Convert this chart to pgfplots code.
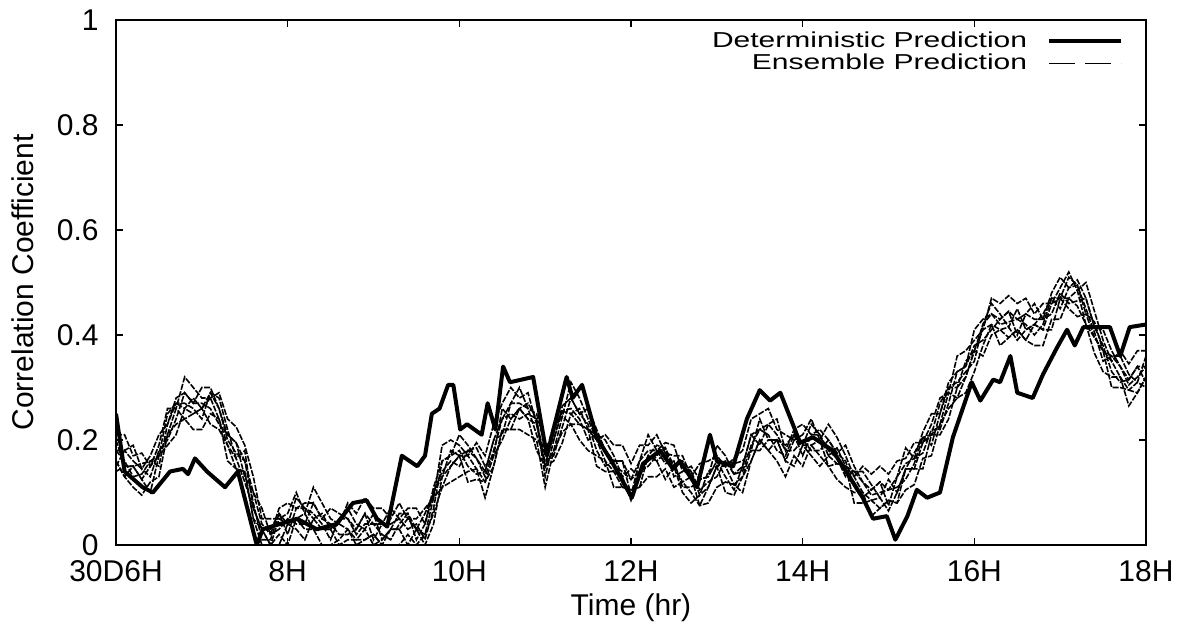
\documentclass[border=0pt]{standalone}
\usepackage{fontspec}
\setmainfont{Liberation Sans}
\usepackage{graphicx}
\usepackage{pgfplots}
\pgfplotsset{compat=1.18}
\usepackage{pgfplotstable}
\usetikzlibrary{calc}

% ensemble members
\pgfplotstableread[row sep=\\]{
t e1 e2 e3 e4 e5 e6 e7 e8\\
6.0 .21 .18 .20 .15 .18 .16 .14 .16\\
6.1 .21 .18 .15 .18 .16 .13 .15 .13\\
6.2 .17 .19 .15 .16 .13 .15 .15 .11\\
6.3 .175 .145 .155 .145 .135 .125 .125 .095\\
6.4 .15 .17 .16 .13 .16 .15 .10 .12\\
6.5 .19 .21 .17 .18 .15 .17 .17 .13\\
6.6 .26 .23 .25 .20 .23 .21 .19 .21\\
6.7 .26 .28 .27 .24 .27 .26 .21 .23\\
6.8 .32 .29 .26 .29 .27 .24 .26 .24\\
6.9 .30 .27 .28 .27 .26 .25 .25 .22\\
7.0 .28 .30 .26 .27 .24 .26 .26 .22\\
7.1 .28 .30 .29 .26 .29 .28 .23 .25\\
7.2 .29 .26 .28 .23 .26 .24 .22 .24\\
7.3 .24 .21 .22 .21 .20 .19 .19 .16\\
7.4 .225 .195 .165 .195 .175 .145 .165 .145\\
7.5 .19 .16 .18 .13 .16 .14 .12 .14\\
7.6 .13 .10 .07 .10 .08 .05 .07 .05\\
7.7 .05 .07 .03 .04 .01 .03 .03 0\\
7.8 .05 .02 .03 .02 .01 0 0 0\\
7.9 .05 .07 .06 .03 .06 .05 0 .02\\
8.0 .06 .08 .04 .05 .02 .04 .04 0\\
8.1 .10 .07 .09 .04 .07 .05 .03 .05\\
8.2 .06 .08 .07 .04 .07 .06 .01 .03\\
8.3 .11 .08 .05 .08 .06 .03 .05 .03\\
8.4 .08 .05 .06 .05 .04 .03 .03 0\\
8.5 .05 .07 .03 .04 .01 .03 .03 0\\
8.6 .04 .06 .05 .02 .05 .04 0 .01\\
8.7 .08 .05 .07 .02 .05 .03 .01 .03\\
8.8 .06 .03 .04 .03 .02 .01 .01 0\\
8.9 .09 .06 .03 .06 .04 .01 .03 .01\\
9.0 .07 .04 .06 .01 .04 .02 0 .02\\
9.1 .07 .04 .01 .04 .02 0 .01 0\\
9.2 .05 .07 .03 .04 .01 .03 .03 0\\
9.3 .08 .05 .06 .05 .04 .03 .03 0\\
9.4 .05 .07 .06 .03 .06 .05 0 .02\\
9.5 .05 .07 .03 .04 .01 .03 .03 0\\
9.6 .07 .04 .06 .01 .04 .02 0 .02\\
9.7 .09 .11 .10 .07 .10 .09 .04 .06\\
9.8 .19 .16 .13 .16 .14 .11 .13 .11\\
9.9 .20 .17 .18 .17 .16 .15 .15 .12\\
10.0 .19 .21 .17 .18 .15 .17 .17 .13\\
10.1 .17 .19 .18 .15 .18 .17 .12 .14\\
10.2 .195 .165 .185 .135 .165 .145 .125 .145\\
10.3 .17 .14 .15 .14 .13 .12 .12 .09\\
10.4 .23 .20 .17 .20 .18 .15 .17 .15\\
10.5 .27 .24 .26 .21 .24 .22 .20 .22\\
10.6 .30 .27 .24 .27 .25 .22 .24 .22\\
10.7 .28 .30 .26 .27 .24 .26 .26 .22\\
10.8 .29 .26 .27 .26 .25 .24 .24 .21\\
10.9 .23 .25 .24 .21 .24 .23 .18 .20\\
11.0 .17 .19 .15 .16 .13 .15 .15 .11\\
11.1 .23 .20 .22 .17 .20 .18 .16 .18\\
11.2 .245 .265 .255 .225 .255 .245 .195 .215\\
11.3 .31 .28 .25 .28 .26 .23 .25 .23\\
11.4 .28 .25 .26 .25 .24 .23 .23 .20\\
11.5 .24 .26 .22 .23 .20 .22 .22 .18\\
11.6 .20 .22 .21 .18 .21 .20 .15 .17\\
11.7 .21 .18 .20 .15 .18 .16 .14 .16\\
11.8 .19 .16 .17 .16 .15 .14 .14 .11\\
11.9 .19 .16 .13 .16 .14 .11 .13 .11\\
12.0 .155 .125 .145 .095 .125 .105 .085 .105\\
12.1 .19 .16 .13 .16 .14 .11 .13 .11\\
12.2 .19 .21 .17 .18 .15 .17 .17 .13\\
12.3 .21 .18 .19 .18 .17 .16 .16 .13\\
12.4 .175 .195 .185 .155 .185 .175 .125 .145\\
12.5 .17 .19 .15 .16 .13 .15 .15 .11\\
12.6 .17 .14 .16 .11 .14 .12 .10 .12\\
12.7 .13 .15 .14 .11 .14 .13 .08 .10\\
12.8 .155 .125 .095 .125 .105 .075 .095 .075\\
12.9 .16 .13 .14 .13 .12 .11 .11 .08\\
13.0 .17 .19 .15 .16 .13 .15 .15 .11\\
13.1 .15 .17 .16 .13 .16 .15 .10 .12\\
13.2 .165 .135 .155 .105 .135 .115 .095 .115\\
13.3 .18 .15 .16 .15 .14 .13 .13 .10\\
13.4 .24 .21 .18 .21 .19 .16 .18 .16\\
13.5 .25 .22 .24 .19 .22 .20 .18 .20\\
13.6 .26 .23 .20 .23 .21 .18 .20 .18\\
13.7 .22 .24 .20 .21 .18 .20 .20 .16\\
13.8 .21 .18 .19 .18 .17 .16 .16 .13\\
13.9 .20 .22 .21 .18 .21 .20 .15 .17\\
14.0 .21 .23 .19 .20 .17 .19 .19 .15\\
14.1 .24 .21 .23 .18 .21 .19 .17 .19\\
14.2 .20 .22 .21 .18 .21 .20 .15 .17\\
14.3 .23 .20 .17 .20 .18 .15 .17 .15\\
14.4 .205 .175 .185 .175 .165 .155 .155 .125\\
14.5 .17 .19 .15 .16 .13 .15 .15 .11\\
14.6 .13 .15 .14 .11 .14 .13 .08 .10\\
14.7 .15 .12 .14 .09 .12 .10 .08 .10\\
14.8 .135 .105 .115 .105 .095 .085 .085 .055\\
14.9 .15 .12 .09 .12 .10 .07 .09 .07\\
15.0 .135 .105 .125 .075 .105 .085 .065 .085\\
15.1 .16 .13 .10 .13 .11 .08 .10 .08\\
15.2 .165 .185 .145 .155 .125 .145 .145 .105\\
15.3 .195 .165 .175 .165 .155 .145 .145 .115\\
15.4 .195 .215 .205 .175 .205 .195 .145 .165\\
15.5 .23 .25 .21 .22 .19 .21 .21 .17\\
15.6 .28 .25 .27 .22 .25 .23 .21 .23\\
15.7 .29 .31 .30 .27 .30 .29 .24 .26\\
15.8 .36 .33 .30 .33 .31 .28 .30 .28\\
15.9 .37 .34 .35 .34 .33 .32 .32 .29\\
16.0 .39 .41 .37 .38 .35 .37 .37 .33\\
16.1 .41 .43 .42 .39 .42 .41 .36 .38\\
16.2 .47 .44 .46 .41 .44 .42 .40 .42\\
16.3 .46 .43 .44 .43 .42 .41 .41 .38\\
16.4 .475 .445 .415 .445 .425 .395 .415 .395\\
16.5 .46 .43 .45 .40 .43 .41 .39 .41\\
16.6 .47 .44 .41 .44 .42 .39 .41 .39\\
16.7 .44 .46 .42 .43 .40 .42 .42 .38\\
16.8 .46 .43 .44 .43 .42 .41 .41 .38\\
16.9 .46 .48 .47 .44 .47 .46 .41 .43\\
17.0 .49 .51 .47 .48 .45 .47 .47 .43\\
17.1 .52 .49 .51 .46 .49 .47 .45 .47\\
17.2 .485 .505 .495 .465 .495 .485 .435 .455\\
17.3 .50 .47 .44 .47 .45 .42 .44 .42\\
17.4 .445 .415 .425 .415 .405 .395 .395 .365\\
17.5 .39 .41 .37 .38 .35 .37 .37 .33\\
17.6 .35 .37 .36 .33 .36 .35 .30 .32\\
17.7 .37 .34 .36 .31 .34 .32 .30 .32\\
17.8 .345 .315 .325 .315 .305 .295 .295 .265\\
17.9 .37 .34 .31 .34 .32 .29 .31 .29\\
18.0 .37 .34 .36 .31 .34 .32 .30 .32\\
}\ens

\begin{document}
\begin{tikzpicture}
\begin{axis}[name=ax, scale only axis, width=515pt, height=262.5pt,
  xmin=6, xmax=18, ymin=0, ymax=1,
  xtick={6,8,10,12,14,16,18},
  xticklabels={30D6H,8H,10H,12H,14H,16H,18H},
  ytick={0,0.2,0.4,0.6,0.8,1},
  tick align=inside, major tick length=3.5pt,
  axis line style={line width=1pt},
  major tick style={line width=0.8pt, black},
  /pgf/number format/assume math mode=true,
  tick label style={font=\fontsize{15}{18}\selectfont, inner sep=0pt},
  yticklabel style={xshift=-8.5pt},
  xticklabel style={yshift=-7.5pt},
  label style={font=\fontsize{15}{18}\selectfont},
  xlabel={Time (hr)}, ylabel={Correlation Coefficient},
  xlabel style={at={(0.5,-0.12)}, anchor=center},
  ylabel style={at={(-0.0903,0.5)}, anchor=center},
  legend style={draw=none, fill=none, at={(0.984,0.99)}, anchor=north east,
    font=\fontsize{15}{18}\selectfont, row sep=0pt,
    nodes={inner sep=1pt}},
  legend plot pos=right, legend cell align=right,
  legend image code/.code={\path (0pt,0pt); \draw[#1] (9pt,0pt) -- (45pt,0pt);},
]
\pgfplotsinvokeforeach{1,...,8}{
  \addplot[black, line width=0.8pt, dash pattern=on 3pt off 0.8pt, forget plot]
    table[x=t, y=e#1]{\ens};
}
\addplot[black, line width=2pt, line join=round, forget plot] coordinates {
(6.00,0.25)(6.10,0.14)(6.31,0.11)(6.43,0.10)(6.63,0.14)(6.78,0.145)
(6.84,0.135)(6.92,0.165)(7.06,0.14)(7.27,0.11)(7.42,0.14)(7.64,0.0)
(7.71,0.03)(8.11,0.05)(8.34,0.03)(8.57,0.04)(8.76,0.08)(8.92,0.085)
(9.04,0.05)(9.16,0.035)(9.33,0.17)(9.51,0.15)(9.60,0.17)(9.68,0.25)
(9.77,0.26)(9.87,0.305)(9.93,0.305)(10.01,0.22)(10.09,0.23)(10.26,0.21)
(10.33,0.27)(10.42,0.22)(10.51,0.34)(10.59,0.31)(10.86,0.32)(11.02,0.17)
(11.25,0.32)(11.32,0.28)(11.43,0.305)(11.60,0.205)(11.79,0.155)(12.01,0.09)
(12.14,0.155)(12.34,0.18)(12.49,0.145)(12.57,0.16)(12.77,0.11)(12.92,0.21)
(13.00,0.16)(13.19,0.15)(13.35,0.24)(13.50,0.295)(13.62,0.275)(13.74,0.29)
(13.97,0.195)(14.12,0.205)(14.35,0.18)(14.70,0.09)(14.82,0.05)(14.98,0.055)
(15.08,0.01)(15.22,0.055)(15.33,0.105)(15.45,0.09)(15.60,0.10)(15.75,0.205)
(15.97,0.31)(16.07,0.275)(16.22,0.315)(16.30,0.31)(16.42,0.36)(16.50,0.29)
(16.68,0.28)(16.80,0.325)(16.96,0.375)(17.08,0.41)(17.17,0.38)(17.27,0.415)
(17.58,0.415)(17.70,0.36)(17.81,0.415)(18.00,0.42)
};
\addlegendimage{black, line width=2pt}
\addlegendentry{\scalebox{1}[0.72]{Deterministic Prediction}}
\addlegendimage{black, line width=0.5pt, dash pattern=on 13pt off 5pt}
\addlegendentry{\scalebox{1}[0.72]{Ensemble Prediction}}
\end{axis}
\pgfresetboundingbox
\path ($(ax.south west)+(-58pt,-40.5pt)$) rectangle ($(ax.north east)+(16pt,10pt)$);
\end{tikzpicture}
\end{document}
